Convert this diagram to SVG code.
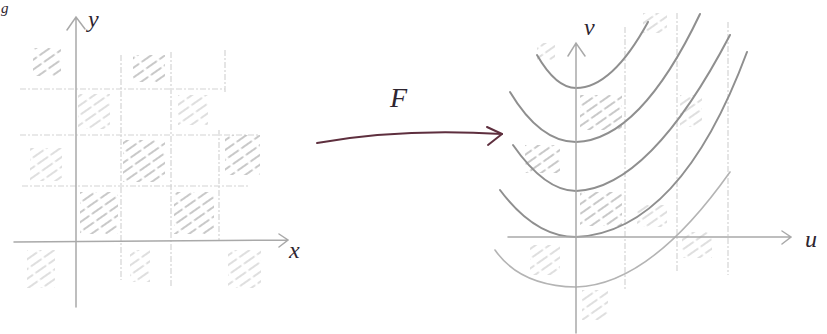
<svg xmlns="http://www.w3.org/2000/svg" width="827" height="334" viewBox="0 0 827 334">
  <style>
    .axis { stroke: #a9a9a9; stroke-width: 1.5; fill: none; stroke-linecap: round; }
    .grid { stroke: #d4d4d4; stroke-width: 1.2; fill: none; stroke-dasharray: 6 2 2 2; }
    .curve { stroke: #8f8f8f; stroke-width: 2; fill: none; stroke-linecap: round; }
    .curve-faint { stroke: #b4b4b4; stroke-width: 1.6; fill: none; stroke-linecap: round; }
    .hatch { fill: url(#hatchPat); }
    .hatch-faint { fill: url(#hatchPat); opacity: 0.6; }
    .label { font-family: "Liberation Serif", serif; font-style: italic; fill: #2e2530; }
    .map { stroke: #5e2f3e; stroke-width: 2; fill: none; stroke-linecap: round; stroke-linejoin: round; }
  </style>
  <defs>
    <pattern id="hatchPat" width="16" height="8" patternUnits="userSpaceOnUse" patternTransform="rotate(-35)">
      <line x1="1" y1="4" x2="13" y2="4" stroke="#b7b7b7" stroke-width="1.3" stroke-linecap="round"/>
    </pattern>
  </defs>
  <rect width="827" height="334" fill="#ffffff"/>

  <!-- stray corner glyph -->
  <text class="label" x="1" y="13" font-size="15">g</text>

  <g id="left-plane">
    <!-- grid -->
    <path class="grid" d="M20,89 H225 M20,135 H260 M22,186 H250 M121,55 V280 M171,52 V287 M225,50 V92 M219,130 V241"/>
    <!-- hatched cells -->
    <rect class="hatch" x="80" y="192" width="38" height="42"/>
    <rect class="hatch" x="174" y="192" width="40" height="42"/>
    <rect class="hatch-faint" x="30" y="148" width="32" height="33"/>
    <rect class="hatch" x="123" y="140" width="42" height="42"/>
    <rect class="hatch" x="225" y="135" width="35" height="40"/>
    <rect class="hatch-faint" x="78" y="94" width="32" height="35"/>
    <rect class="hatch-faint" x="178" y="95" width="30" height="30"/>
    <rect class="hatch" x="33" y="48" width="28" height="28"/>
    <rect class="hatch" x="133" y="55" width="32" height="27"/>
    <rect class="hatch-faint" x="27" y="250" width="28" height="38"/>
    <rect class="hatch-faint" x="130" y="250" width="20" height="32"/>
    <rect class="hatch-faint" x="228" y="250" width="33" height="38"/>
    <!-- axes -->
    <path class="axis" d="M14,242 L287,240 M279,234 L288,240 L279,247"/>
    <path class="axis" d="M76,307 L76,18 M67,30 L76,17 L85,29"/>
    <text class="label" x="88" y="27" font-size="24">y</text>
    <text class="label" x="289" y="258" font-size="24">x</text>
  </g>

  <g id="right-plane">
    <!-- vertical grid -->
    <path class="grid" d="M625,27 V290 M677,13 V273 M728,22 V275"/>
    <!-- hatched regions -->
    <rect class="hatch-faint" x="537" y="43" width="18" height="17"/>
    <rect class="hatch-faint" x="643" y="13" width="24" height="20"/>
    <rect class="hatch" x="580" y="95" width="42" height="35"/>
    <rect class="hatch-faint" x="680" y="95" width="22" height="32"/>
    <rect class="hatch" x="525" y="145" width="35" height="28"/>
    <rect class="hatch" x="580" y="192" width="42" height="34"/>
    <rect class="hatch-faint" x="637" y="205" width="30" height="22"/>
    <rect class="hatch-faint" x="682" y="232" width="30" height="26"/>
    <rect class="hatch-faint" x="530" y="245" width="30" height="30"/>
    <rect class="hatch-faint" x="582" y="290" width="26" height="30"/>
    <!-- parabolas -->
    <path class="curve" d="M537,55 Q556,88 576,88 Q612,88 648,22"/>
    <path class="curve" d="M510,92 Q540,142 576,142 Q640,140 700,14"/>
    <path class="curve" d="M513,145 Q545,191 576,191 Q650,188 730,35"/>
    <path class="curve" d="M500,190 Q535,237 576,237 Q680,232 747,52"/>
    <path class="curve-faint" d="M495,250 Q520,286 576,287 Q650,285 730,172"/>
    <!-- axes -->
    <path class="axis" d="M508,237 L790,237 M782,231 L791,237 L782,244"/>
    <path class="axis" d="M576,333 L576,44 M568,56 L576,43 L585,56"/>
    <text class="label" x="584" y="35" font-size="24">v</text>
    <text class="label" x="805" y="247" font-size="24">u</text>
  </g>

  <g id="connectors">
    <path class="map" d="M317,143 Q400,128 502,134"/>
    <path class="map" d="M487,127 L502,134 L488,145"/>
    <text class="label" x="390" y="107" font-size="28" fill="#2e2530">F</text>
  </g>
</svg>
